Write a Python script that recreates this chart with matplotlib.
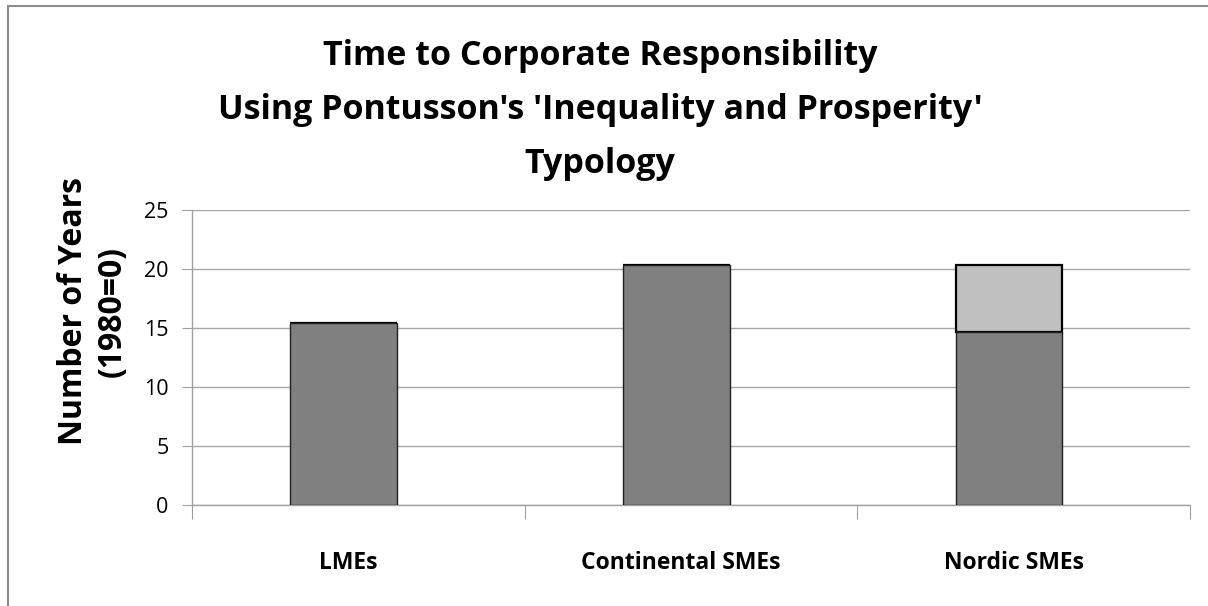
import matplotlib
matplotlib.use('Agg')
import matplotlib.pyplot as plt
from matplotlib.patches import Rectangle
import numpy as np

categories = ['LMEs', 'Continental SMEs', 'Nordic SMEs']
base_years = [15.4, 20.3, 14.7]
extra_years = [0.0, 0.0, 5.6]
yticks = [0, 5, 10, 15, 20, 25]
title = "Time to Corporate Responsibility\nUsing Pontusson's 'Inequality and Prosperity'\nTypology"
ylabel = 'Number of Years\n(1980=0)'

plt.rcParams['font.family'] = ['Open Sans', 'DejaVu Sans']

W, H = 1208, 606
fig = plt.figure(figsize=(W / 100, H / 100), dpi=100)
# plot area in pixels: x 192..1190, y 210..505
ax = fig.add_axes([192 / W, 1 - 505 / H, (1190 - 192) / W, (505 - 210) / H])

x = np.arange(len(categories))
xb = x - 0.044  # bars sit a little left of the category centre
ax.bar(xb, extra_years, bottom=base_years, width=0.32, color='#c0c0c0',
       edgecolor='#000000', lw=1.6, zorder=3)
ax.bar(xb, base_years, width=0.32, color='#808080', edgecolor='#202020', lw=1, zorder=4)

ax.set_xlim(-0.5, 2.5)
ax.set_ylim(0, 25)
ax.set_yticks(yticks)
ax.yaxis.grid(True, color='#a6a6a6', lw=1)
ax.set_axisbelow(True)
for s in ['top', 'right']:
    ax.spines[s].set_visible(False)
for s in ['left', 'bottom']:
    ax.spines[s].set_color('#a0a0a0')
    ax.spines[s].set_linewidth(1)
ax.set_xticks([-0.5, 0.5, 1.5, 2.5])
ax.set_xticklabels([])
ax.set_xticks(x - 0.03, minor=True)
ax.set_xticklabels(categories, minor=True, fontsize=16.5, fontweight='bold')
ax.tick_params(axis='x', which='minor', length=0, pad=33)
ax.tick_params(axis='x', which='major', length=10, color='#a0a0a0')
ax.tick_params(axis='y', length=7, color='#a0a0a0', labelsize=15.5, pad=10)

fig.text(600 / W, 1 - 110 / H, title, ha='center', va='center', fontsize=24.5,
         fontweight='bold', linespacing=1.78)
fig.text(93 / W, 1 - 311 / H, ylabel, ha='center', va='center', rotation=90,
         fontsize=23, fontweight='bold', linespacing=1.25)

fig.patches.append(Rectangle((8 / W, -0.1), 1.2, 1 - 6 / H + 0.1, transform=fig.transFigure,
                             fill=False, edgecolor='#8c8c8c', lw=1.5))

fig.savefig('out.png', dpi=100)
